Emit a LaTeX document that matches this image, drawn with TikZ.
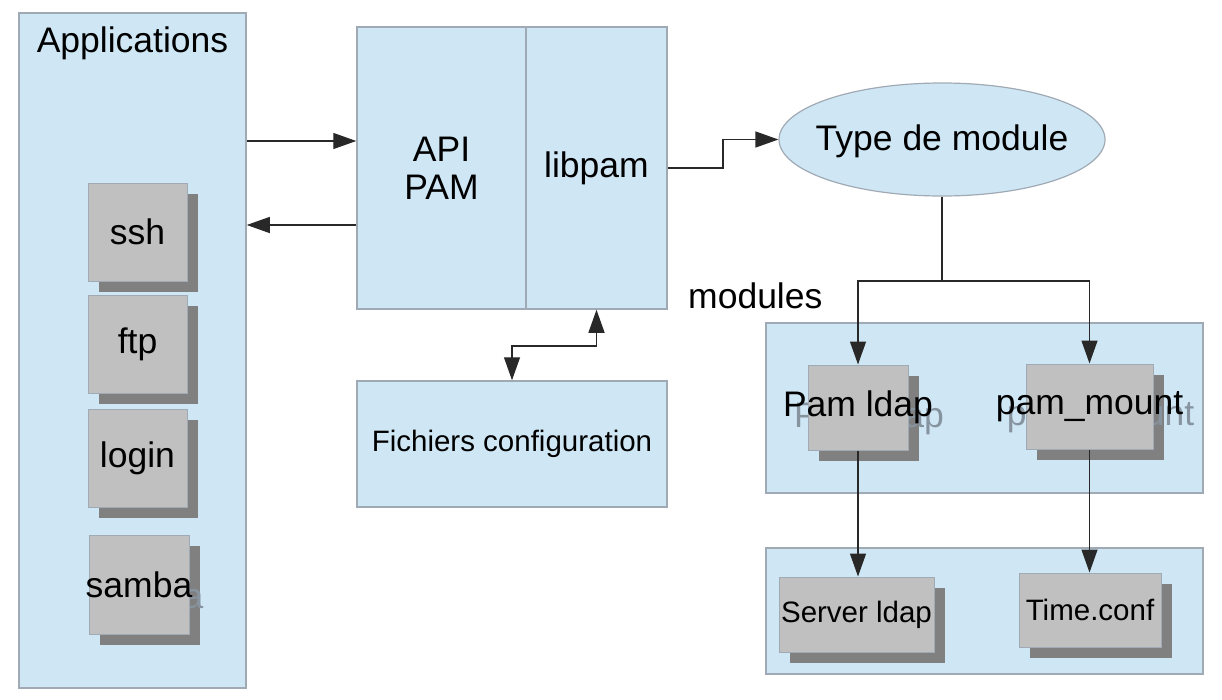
\documentclass[tikz,border=0pt]{standalone}
\usepackage{fontspec}
\setmainfont{Liberation Sans}
\usetikzlibrary{shapes.geometric,arrows.meta}
\definecolor{panelblue}{RGB}{207,231,245}
\definecolor{panelline}{RGB}{160,170,180}
\definecolor{boxgray}{RGB}{192,192,192}
\definecolor{shadowgray}{RGB}{128,128,128}
\definecolor{ghostgray}{RGB}{135,148,160}
\definecolor{wire}{RGB}{40,40,40}
\newcommand{\bigfont}{\fontsize{35.5}{38}\selectfont}
\newcommand{\smallfont}{\fontsize{29.5}{34}\selectfont}
% grey box with its shadow: [ghost style]{name}{x}{y}{w}{h}{text}
\newcommand{\pambox}[7][ghost]{%
  \node[shadowbox,minimum width=#5,minimum height=#6] at (#3+11,#4+11) {};
  \node[#1] at (#3+11,#4+11) {#7};
  \node[frontbox,minimum width=#5,minimum height=#6] (#2) at (#3,#4) {};
  \node[#1,text=black] at (#2) {#7};}
\begin{document}
\begin{tikzpicture}[x=1pt,y=-1pt,
    panel/.style={draw=panelline,fill=panelblue,line width=1.5pt,inner sep=0pt},
    frontbox/.style={draw=panelline,fill=boxgray,line width=1pt,inner sep=0pt},
    shadowbox/.style={fill=shadowgray,inner sep=0pt},
    ghost/.style={text=ghostgray,inner sep=0pt,font=\bigfont},
    noghost/.style={text=shadowgray,inner sep=0pt,font=\smallfont},
    arr/.style={draw=wire,line width=1.3pt,-{Triangle[length=23pt,width=16pt]}},
    dbl/.style={draw=wire,line width=1.3pt,
        {Triangle[length=23pt,width=16pt]}-{Triangle[length=23pt,width=16pt]}}]
\useasboundingbox (0,0) rectangle (1222,699);
% applications
\node[panel,minimum width=227,minimum height=675] (apps) at (132.5,350.5) {};
\node[font=\bigfont,anchor=base,inner sep=0pt] (appslabel) at (132.5,52) {Applications};
\pambox{ssh}{137.5}{232}{99}{98}{ssh}
\pambox{ftp}{137.5}{344}{99}{98}{ftp}
\pambox{login}{137.5}{458}{99}{98}{login}
\pambox{samba}{139}{584.5}{100}{99}{samba}
% PAM
\node[panel,minimum width=169,minimum height=282,font=\bigfont,align=center]
    (api) at (441.5,168) {API\\PAM};
\node[panel,minimum width=141,minimum height=282,font=\bigfont]
    (libpam) at (596.5,168) {libpam};
\node[panel,minimum width=310,minimum height=126,font=\smallfont]
    (conf) at (512,444) {Fichiers configuration};
\node[ellipse,draw=panelline,fill=panelblue,line width=1.2pt,inner sep=0pt,
    minimum width=326,minimum height=113] (type) at (942,139.5) {};
\node[font=\bigfont,inner sep=0pt] (typelabel) at (942,141) {Type de module};
% modules
\node[font=\bigfont,anchor=base west,inner sep=0pt] (modlabel) at (688,308) {modules};
\node[panel,minimum width=437,minimum height=170] (modbox) at (984.5,408) {};
\pambox{pamldap}{858}{407.5}{100}{85}{Pam ldap}
\pambox{pammount}{1089.5}{406.5}{127}{85}{pam\_mount}
\node[panel,minimum width=437,minimum height=126] (srvbox) at (984.5,611) {};
\pambox[noghost]{srvldap}{856.5}{614.5}{155}{75}{Server ldap}
\pambox[noghost]{timeconf}{1090}{610}{142}{74}{Time.conf}
% connectors
\draw[arr] (apps.east |- 0,141) -- (api.west |- 0,141);
\draw[arr] (api.west |- 0,225) -- (apps.east |- 0,225);
\draw[arr] (libpam.east |- 0,168) -- (723,168) |- (type.west);
\draw[dbl] (conf.north) |- (libpam.south |- 0,346) -- (libpam.south);
\coordinate (split) at (942,281);
\draw[arr] (type.south) -- (split) -| (pamldap.north);
\draw[arr] (split) -| (pammount.north);
\draw[arr] (pamldap.south) -- (pamldap.south |- srvldap.north);
\draw[arr] (pammount.south) -- (pammount.south |- timeconf.north);
\end{tikzpicture}
\end{document}
